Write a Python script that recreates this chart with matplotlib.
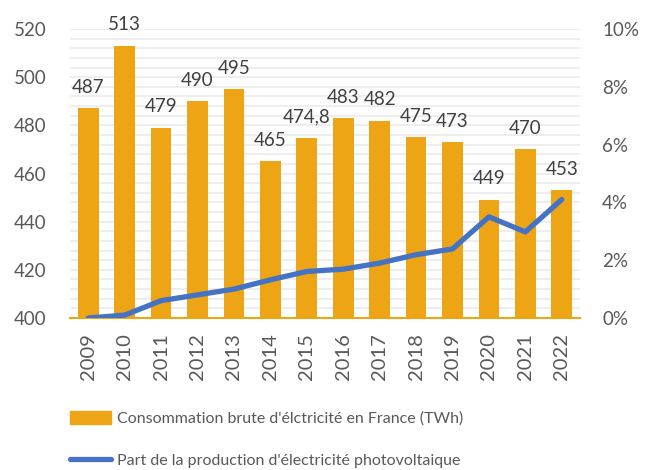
import matplotlib.pyplot as plt
from matplotlib.ticker import MultipleLocator, FuncFormatter
from matplotlib.patches import Patch
from matplotlib.lines import Line2D

plt.rcParams['font.family'] = ['Lato', 'DejaVu Sans']

years = ['2009', '2010', '2011', '2012', '2013', '2014', '2015',
         '2016', '2017', '2018', '2019', '2020', '2021', '2022']
conso = [487, 513, 479, 490, 495, 465, 474.8, 483, 482, 475, 473, 449, 470, 453]
part_pv = [0.0, 0.1, 0.6, 0.8, 1.0, 1.32, 1.61, 1.69, 1.9, 2.19, 2.39, 3.5, 2.98, 4.1]

orange = '#EDA516'
bleu = '#4472C4'
gris = '#595959'

fig = plt.figure(figsize=(6.46, 4.70), dpi=100)
ax = fig.add_axes([0.1084, 0.3234, 0.7894, 0.6149])
ax2 = ax.twinx()

x = list(range(len(years)))
ax.bar(x, conso, width=0.57, color=orange, zorder=2)
ax.set_ylim(400, 520)
ax.set_xlim(-0.5, len(years) - 0.5)
ax.yaxis.set_major_locator(MultipleLocator(20))
ax.yaxis.set_minor_locator(MultipleLocator(4))
ax.grid(True, which='both', axis='y', color='#EBEBEB', linewidth=1.2, zorder=0)
ax.set_axisbelow(True)

for i, v in enumerate(conso):
    txt = str(v).replace('.', ',')
    ax.annotate(txt, (i, v), xytext=(0, 9), textcoords='offset points',
                ha='center', va='bottom', fontsize=13.5, color='#404040')

ax.set_xticks(x)
ax.set_xticklabels(years, rotation=90, fontsize=14.5, color=gris)
ax.tick_params(axis='x', length=0, pad=11)
ax.tick_params(axis='y', which='both', length=0, labelsize=13.5, labelcolor=gris, pad=17)

for s in ['top', 'left', 'right']:
    ax.spines[s].set_visible(False)
    ax2.spines[s].set_visible(False)
ax.spines['bottom'].set_color(orange)
ax.spines['bottom'].set_linewidth(1.5)
ax2.spines['bottom'].set_visible(False)

ax2.plot(x, part_pv, color=bleu, linewidth=3.8, solid_capstyle='round',
         solid_joinstyle='round', zorder=3)
ax2.set_ylim(0, 10)
ax2.yaxis.set_major_locator(MultipleLocator(2))
ax2.yaxis.set_major_formatter(FuncFormatter(lambda v, p: '{:.0f}%'.format(v)))
ax2.tick_params(axis='y', length=0, labelsize=13.5, labelcolor=gris, pad=16)

handles = [Patch(color=orange),
           Line2D([0], [0], color=bleu, linewidth=3.8, solid_capstyle='round')]
labels = ["Consommation brute d'élctricité en France (TWh)",
          "Part de la production d'électricité photovoltaique"]
fig.legend(handles, labels, loc='upper left', bbox_to_anchor=(0.086, 0.156),
           frameon=False, fontsize=11.5, handlelength=2.6, handleheight=0.9,
           handletextpad=0.35, labelspacing=1.7, labelcolor=gris)

fig.savefig('out.png', dpi=100)
